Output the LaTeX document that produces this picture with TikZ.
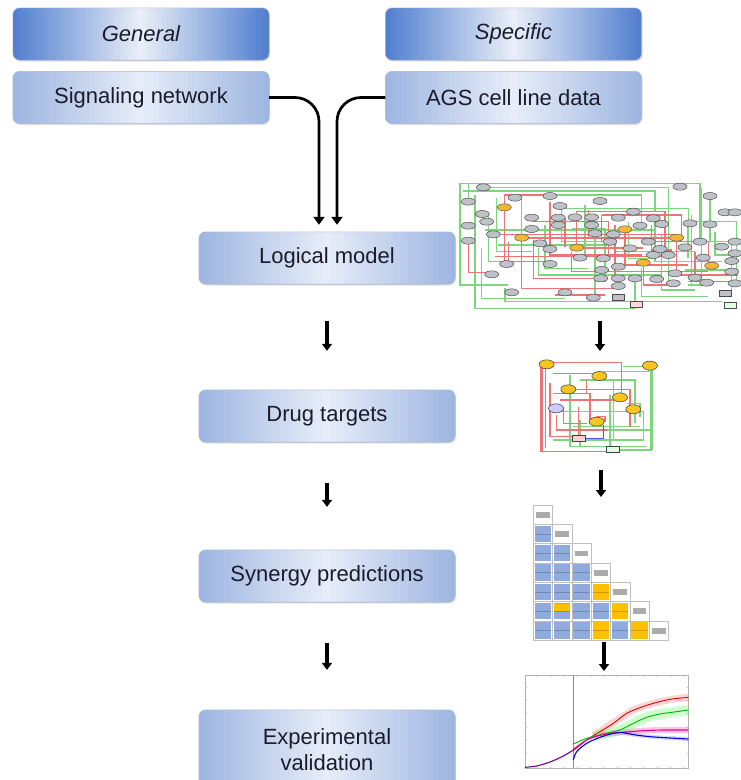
\documentclass[tikz,border=0pt]{standalone}
\usepackage{fontspec}
\setmainfont{Liberation Sans}
\usetikzlibrary{arrows.meta,shapes.geometric,calc,backgrounds}

\definecolor{headedge}{HTML}{4F7DCF}
\definecolor{headmid}{HTML}{EAEFF8}
\definecolor{stepedge}{HTML}{9DB5E1}
\definecolor{stepmid}{HTML}{E7EDF8}
\definecolor{boxline}{HTML}{A9B7D0}
\definecolor{txt}{HTML}{1A1C2C}
\definecolor{netgreen}{HTML}{7CD67C}
\definecolor{netred}{HTML}{EC7474}
\definecolor{nodegray}{HTML}{BEC2C8}
\definecolor{nodeorange}{HTML}{F3B733}
\definecolor{nodeyellow}{HTML}{F7C51E}
\definecolor{cellblue}{HTML}{8FAADC}
\definecolor{cellorange}{HTML}{FFC000}

% rounded box behind node #1: soft shadow, colour #2 at both sides, #3 in the middle
\newcommand\boxgrad[3]{%
  \fill[black!60, opacity=0.18, rounded corners=7pt]
    ([xshift=0.8pt, yshift=-1.4pt]#1.south west) rectangle ([xshift=0.8pt, yshift=-1.4pt]#1.north east);
  \begin{scope}
    \clip[rounded corners=7pt] (#1.south west) rectangle (#1.north east);
    \foreach \i in {0,...,59} {
      \pgfmathsetmacro\gradt{abs(\i+0.5-30)/30*100}
      \fill[#2!\gradt!#3]
        ($(#1.south west)!{\i/60}!(#1.south east)$) rectangle
        ($(#1.north west)!{(\i+1.1)/60}!(#1.north east)$);
    }
  \end{scope}
  \draw[boxline, line width=0.6pt, rounded corners=7pt] (#1.south west) rectangle (#1.north east);
}

\tikzset{
  boxbase/.style={rectangle, minimum width=256pt, minimum height=52pt,
    inner sep=0pt, align=center, text=txt, font=\fontsize{22}{26}\selectfont},
  headbox/.style={boxbase, font=\fontsize{22}{26}\selectfont\itshape},
  stepbox/.style={boxbase},
  feed/.style={line width=2.7pt, -{Triangle[length=8pt,width=11pt]}, rounded corners=24pt},
  steparrow/.style={line width=3.4pt, -{Triangle[length=7pt,width=10pt]}},
  gline/.style={netgreen, line width=1.1pt},
  rline/.style={netred, line width=1.1pt},
  gnode/.style={ellipse, draw=black!70, fill=nodegray, line width=0.5pt,
    minimum width=14pt, minimum height=7pt, inner sep=0pt},
  onode/.style={gnode, fill=nodeorange, draw=black!65},
  ynode/.style={ellipse, draw=black!70, fill=nodeyellow, line width=0.6pt,
    minimum width=15pt, minimum height=9pt, inner sep=0pt},
  cellframe/.style={draw=black!25, line width=0.5pt, fill=white},
  plotframe/.style={draw=black!30, line width=0.5pt},
}

\begin{document}
\begin{tikzpicture}[x=1pt, y=-1pt]
\path[use as bounding box] (0,0) rectangle (741,780);
\clip (0,0) rectangle (741,780);

% ---- flow chart boxes
\node[headbox] (general)  at (141,34)    {General};
\node[headbox] (specific) at (513.5,34)  {Specific};
\node[stepbox] (signet)   at (141,97.5)  {Signaling network};
\node[stepbox] (ags)      at (513.5,97.5){AGS cell line data};
\node[stepbox] (logical)  at (327,258)   {Logical model};
\node[stepbox] (drugs)    at (327,416)   {Drug targets};
\node[stepbox] (synergy)  at (327,576)   {Synergy predictions};
\node[stepbox, minimum height=80pt] (expval) at (327,750) {Experimental\\validation};

\begin{scope}[on background layer]
  \boxgrad{general}{headedge}{headmid}
  \boxgrad{specific}{headedge}{headmid}
  \boxgrad{signet}{stepedge}{stepmid}
  \boxgrad{ags}{stepedge}{stepmid}
  \boxgrad{logical}{stepedge}{stepmid}
  \boxgrad{drugs}{stepedge}{stepmid}
  \boxgrad{synergy}{stepedge}{stepmid}
  \boxgrad{expval}{stepedge}{stepmid}
\end{scope}

% ---- connectors of the flow chart
\draw[feed] (signet.east) -| ([xshift=-8pt, yshift=7pt]logical.north);
\draw[feed] (ags.west)    -| ([xshift=10pt, yshift=7pt]logical.north);
\draw[steparrow, shorten <=37pt, shorten >=39pt] (logical) -- (drugs);
\draw[steparrow, shorten <=41pt, shorten >=43pt] (drugs) -- (synergy);
\draw[steparrow, shorten <=41pt, shorten >=40pt] (synergy) -- (expval);

% ---- arrows between the panels on the right
\coordinate (ra1) at (600,321); \coordinate (rb1) at (600,351);
\coordinate (ra2) at (601,470); \coordinate (rb2) at (601,497);
\coordinate (ra3) at (604,642); \coordinate (rb3) at (604,671);
\draw[steparrow] (ra1) -- (rb1);
\draw[steparrow] (ra2) -- (rb2);
\draw[steparrow] (ra3) -- (rb3);

% ---- full signaling network
\begin{scope}[shift={(455,175)}, x=0.3333pt, y=-0.3333pt]
  \foreach \pth in {
    {(15,25) -- (735,25) -- (735,195)},
    {(15,25) -- (15,330) -- (160,330)},
    {(40,80) -- (40,25)},
    {(85,37) -- (640,37) -- (640,330)},
    {(60,60) -- (60,400) -- (540,400)},
    {(100,117) -- (100,260) -- (250,260)},
    {(200,188) -- (200,60) -- (560,60) -- (560,160)},
    {(300,100) -- (700,100) -- (700,250)},
    {(90,165) -- (600,165)},
    {(250,220) -- (250,300) -- (620,300)},
    {(765,63) -- (765,200) -- (830,200) -- (830,350)},
    {(420,175) -- (420,360)},
    {(480,230) -- (720,230)},
    {(600,120) -- (600,260) -- (800,260)},
    {(150,340) -- (150,380) -- (800,380)},
    {(540,310) -- (540,388)},
    {(700,140) -- (845,140) -- (845,330)},
    {(320,80) -- (320,200) -- (460,200)},
    {(130,210) -- (470,210)},
    {(690,285) -- (850,285)},
    {(740,40) -- (740,330) -- (700,330)},
    {(25,48) -- (600,48) -- (600,110)},
    {(125,70) -- (125,230) -- (230,230)},
    {(270,150) -- (270,280) -- (400,280)},
    {(390,90) -- (390,240)},
    {(520,140) -- (520,250) -- (590,250)},
    {(620,180) -- (620,345) -- (720,345)},
    {(710,120) -- (710,330)},
    {(780,170) -- (780,240) -- (850,240)},
    {(80,220) -- (80,370) -- (330,370)},
    {(350,160) -- (450,160) -- (450,320)},
    {(560,280) -- (560,365) -- (760,365)}}
    \draw[gline] \pth;
  \draw[gline, line width=2pt] (15,25) -- (15,200);
  \draw[gline, line width=2pt] (735,60) -- (735,200);
  \draw[gline, line width=1.8pt] (700,140) -- (700,250);
  \foreach \pth in {
    {(115,178) -- (665,178)},
    {(148,97) -- (148,260) -- (280,260)},
    {(40,197) -- (40,292) -- (110,292)},
    {(200,188) -- (200,340) -- (490,340)},
    {(365,218) -- (365,110) -- (630,110) -- (630,230)},
    {(285,80) -- (285,240) -- (560,240)},
    {(510,163) -- (510,270) -- (700,270)},
    {(440,120) -- (680,120) -- (680,200)},
    {(565,263) -- (565,330) -- (660,330)},
    {(665,188) -- (665,300) -- (850,300)},
    {(230,140) -- (460,140) -- (460,250)},
    {(350,230) -- (350,290) -- (760,290)},
    {(120,245) -- (620,245)},
    {(480,150) -- (480,320)},
    {(700,320) -- (850,320)},
    {(560,200) -- (760,200) -- (760,270)},
    {(300,360) -- (450,360)},
    {(148,97) -- (148,60) -- (285,60)},
    {(235,195) -- (235,310) -- (430,310)},
    {(330,130) -- (330,215)},
    {(400,105) -- (400,190) -- (520,190)},
    {(590,150) -- (590,225) -- (650,225)},
    {(160,200) -- (160,280)},
    {(720,230) -- (720,300)}}
    \draw[rline] \pth;
  \draw[rline, line width=2pt] (200,188) -- (665,188);
  \draw[rline, line width=1.8pt] (365,218) -- (565,218);
  \draw[rline, line width=1.6pt] (440,120) -- (440,200);
  \foreach \p [count=\i] in {
    (85,37),(675,35),(40,80),(180,68),(285,63),(435,78),(765,63),
    (315,93),(82,117),(95,140),(230,128),(310,128),(360,127),(410,127),
    (490,128),(535,110),(595,130),(620,147),(705,145),(765,148),(810,112),
    (40,152),(230,162),(310,150),(410,150),(555,152),(115,178),(420,175),
    (475,178),(40,197),(255,205),(285,222),(465,200),(525,220),(580,200),
    (615,222),(690,217),(735,200),(800,215),(840,200),(595,240),(640,240),
    (840,235),(155,267),(285,267),(375,248),(445,250),(490,275),(745,248),
    (830,258),(110,298),(440,285),(660,295),(830,290),(437,310),(490,310),
    (540,310),(605,312),(720,308),(755,323),(655,325),(840,325),(490,333),
    (170,352),(330,352),(415,368),(840,112)}
    \node[gnode] (n\i) at \p {};
  \foreach \p [count=\i] in {(148,97),(510,163),(200,188),(665,188),
    (365,218),(565,263),(770,272)}
    \node[onode] (o\i) at \p {};
  \node[draw=black!70, fill=nodegray, minimum width=12pt, minimum height=6pt,
    inner sep=0pt] (r1) at (490,368) {};
  \node[draw=black!70, fill=red!15, minimum width=12pt, minimum height=6pt,
    inner sep=0pt] (r2) at (545,388) {};
  \node[draw=black!70, fill=nodegray, minimum width=12pt, minimum height=6pt,
    inner sep=0pt] (r3) at (810,355) {};
  \node[draw=black!70, fill=green!10, minimum width=12pt, minimum height=6pt,
    inner sep=0pt] (r4) at (825,390) {};
\end{scope}

% ---- reduced network of drug targets
\begin{scope}[shift={(520,340)}, x=0.3333pt, y=-0.3333pt]
  \foreach \pth in {
    {(310,80) -- (395,80) -- (395,330) -- (270,330)},
    {(150,105) -- (150,320) -- (380,320)},
    {(180,120) -- (345,120) -- (345,250)},
    {(270,165) -- (270,330)},
    {(120,215) -- (370,215) -- (370,300) -- (100,300)},
    {(230,270) -- (390,270)},
    {(280,120) -- (280,300)},
    {(180,240) -- (180,320)},
    {(250,95) -- (385,95) -- (385,77)},
    {(160,260) -- (360,260)},
    {(320,190) -- (360,190) -- (360,230)}}
    \draw[gline] \pth;
  \draw[gline, line width=2.4pt] (395,85) -- (395,330);
  \draw[gline, line width=1.6pt] (150,105) -- (150,320);
  \foreach \pth in {
    {(80,68) -- (305,68) -- (305,165)},
    {(100,100) -- (240,100)},
    {(90,130) -- (90,290) -- (170,290)},
    {(145,148) -- (330,148) -- (330,260)},
    {(120,180) -- (280,180)},
    {(110,225) -- (110,270) -- (260,270)},
    {(230,245) -- (230,230) -- (255,230) -- (255,245)},
    {(175,296) -- (175,200)},
    {(200,120) -- (200,160)},
    {(65,335) -- (270,335)},
    {(100,160) -- (210,160) -- (210,240)},
    {(130,200) -- (130,250) -- (200,250)}}
    \draw[rline] \pth;
  \draw[rline, line width=2.4pt] (65,75) -- (65,335);
  \draw[rline, line width=1.4pt] (76,80) -- (76,325);
  \draw[blue!70, line width=0.7pt] (250,255) -- (250,295) -- (190,295);
  \foreach \p [count=\i] in {(80,73),(390,77),(238,108),(145,148),(300,172),
    (340,208),(230,245)}
    \node[ynode] (y\i) at \p {};
  \node[ynode, fill=blue!20] (yb) at (108,205) {};
  \node[draw=black!75, fill=red!18, minimum width=13pt, minimum height=6pt,
    inner sep=0pt] (pr) at (175,296) {};
  \node[draw=black!75, fill=green!12, minimum width=13pt, minimum height=6pt,
    inner sep=0pt] (gr) at (278,328) {};
\end{scope}

% ---- synergy matrix
\begin{scope}[shift={(533.3,505)}, x=19.3pt, y=-19.3pt]
  % header cells along the diagonal
  \foreach \c in {0,...,6} {
    \draw[cellframe] (\c,\c) rectangle ({\c+1},{\c+1});
    \fill[black!33] ({\c+0.15},{\c+0.36}) rectangle ({\c+0.85},{\c+0.66});
  }
  % prediction cells below the diagonal
  \foreach \c/\r/\k in {0/1/cellblue,0/2/cellblue,0/3/cellblue,0/4/cellblue,
      0/5/cellblue,0/6/cellblue,1/2/cellblue,1/3/cellblue,1/4/cellblue,
      1/5/cellblue,1/6/cellblue,2/3/cellblue,2/4/cellblue,2/5/cellblue,
      2/6/cellblue,3/4/cellorange,3/5/cellblue,3/6/cellorange,
      4/5/cellorange,4/6/cellblue,5/6/cellorange} {
    \draw[cellframe] (\c,\r) rectangle ({\c+1},{\r+1});
    \fill[\k] ({\c+0.08},{\r+0.08}) rectangle ({\c+0.92},{\r+0.92});
    \draw[\k!80!black, line width=0.4pt] ({\c+0.08},{\r+0.5}) -- ({\c+0.92},{\r+0.5});
  }
  \fill[cellorange] (1.08,5.12) rectangle (1.92,5.5);
\end{scope}

% ---- validation curves
\begin{scope}[shift={(510,660)}, x=0.3333pt, y=-0.3333pt]
  \draw[plotframe] (45,45) rectangle (535,325);
  \foreach \t in {80,120,...,520} {
    \draw[black!25, line width=0.3pt] (\t,325) -- (\t,320);
    \draw[black!25, line width=0.3pt] (\t,45) -- (\t,50);
  }
  \foreach \t in {80,120,...,300} {
    \draw[black!25, line width=0.3pt] (45,\t) -- (50,\t);
    \draw[black!25, line width=0.3pt] (535,\t) -- (530,\t);
  }
  \draw[black!45, line width=0.6pt] (190,45) -- (190,325);
  % error bands
  \draw[red!60, opacity=0.28, line width=7pt] plot[smooth] coordinates
    {(250,228) (290,200) (330,175) (370,150) (410,136) (450,125) (500,116) (535,112)};
  \draw[green!70, opacity=0.28, line width=10pt] plot[smooth] coordinates
    {(250,230) (290,220) (330,210) (370,190) (410,172) (450,162) (500,155) (535,150)};
  \draw[magenta, opacity=0.22, line width=6pt] plot[smooth] coordinates
    {(270,226) (310,219) (350,216) (400,212) (460,210) (535,210)};
  \draw[blue, opacity=0.15, line width=4pt] plot[smooth] coordinates
    {(340,218) (370,224) (420,230) (480,234) (535,237)};
  % mean curves
  \draw[violet!90!blue, line width=1.1pt] plot[smooth] coordinates
    {(45,322) (80,318) (120,306) (160,288) (190,270)};
  \draw[red!85!black, line width=0.9pt] plot[smooth] coordinates
    {(190,272) (230,240) (270,215) (310,190) (350,160) (390,143) (430,130) (480,118) (535,112)};
  \draw[green!70!black, line width=0.9pt] plot[smooth] coordinates
    {(190,252) (230,235) (280,222) (330,210) (370,190) (410,172) (450,162) (500,155) (535,150)};
  \draw[magenta, line width=1.1pt] plot[smooth] coordinates
    {(190,268) (230,240) (270,226) (310,219) (350,216) (400,212) (460,210) (535,210)};
  \draw[blue!85!black, line width=1.1pt] plot[smooth] coordinates
    {(190,300) (200,275) (230,250) (270,232) (310,220) (340,218) (370,224) (420,230) (480,234) (535,237)};
\end{scope}
\end{tikzpicture}
\end{document}
